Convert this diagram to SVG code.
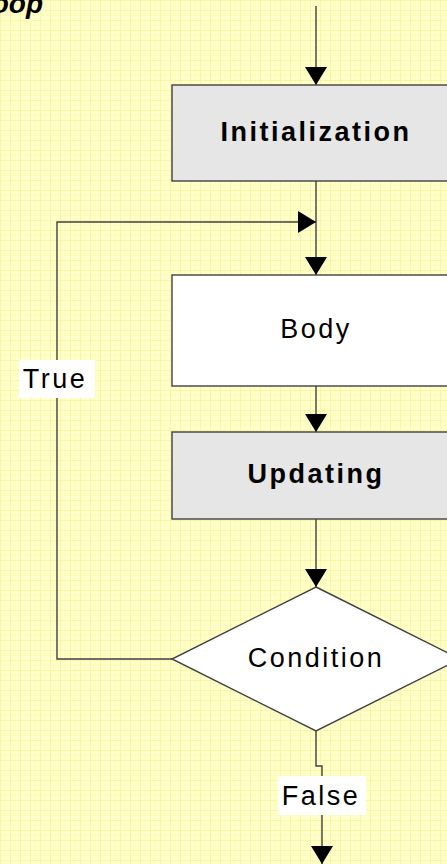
<svg xmlns="http://www.w3.org/2000/svg" width="447" height="864" viewBox="0 0 447 864">
<defs>
<pattern id="grid" width="10" height="10" patternUnits="userSpaceOnUse">
<rect width="10" height="10" fill="#FFFFCC"/>
<path d="M5 0V10M0 5H10" stroke="#FDFBB8" stroke-width="1" fill="none"/>
<path d="M0.5 0V10M0 0.5H10" stroke="#F9F5A4" stroke-width="1" fill="none"/>
</pattern>
<marker id="ah" viewBox="0 0 18 22" refX="18" refY="11" markerWidth="18" markerHeight="22" markerUnits="userSpaceOnUse" orient="auto">
<path d="M0 0L18 11L0 22Z" fill="#000"/>
</marker>
<style>
.ln{stroke:#404040;stroke-width:1.4;fill:none}
.box{stroke:#404040;stroke-width:1.4}
.t{font-family:"Liberation Sans",Arial,sans-serif;font-size:27px;letter-spacing:2.5px;text-anchor:middle;fill:#000}
.b{font-weight:bold}
</style>
</defs>
<rect width="447" height="864" fill="url(#grid)"/>
<text x="43" y="13" font-family="Liberation Sans,Arial,sans-serif" font-size="28" font-weight="bold" font-style="italic" text-anchor="end" fill="#000">oop</text>
<g id="connectors">
<line class="ln" x1="316" y1="6" x2="316" y2="85" marker-end="url(#ah)"/>
<line class="ln" x1="316" y1="181" x2="316" y2="275" marker-end="url(#ah)"/>
<line class="ln" x1="316" y1="386" x2="316" y2="432" marker-end="url(#ah)"/>
<line class="ln" x1="316" y1="519" x2="316" y2="587" marker-end="url(#ah)"/>
<polyline class="ln" points="172,659 57,659 57,222 316,222" marker-end="url(#ah)"/>
<polyline class="ln" points="316,731 316,766 322,766 322,864" marker-end="url(#ah)"/>
<g id="label-true"><rect x="19" y="360" width="76" height="38" fill="#fff"/><text class="t" x="55" y="388">True</text></g>
<g id="label-false"><rect x="278" y="776" width="88" height="39" fill="#fff"/><text class="t" x="321" y="805">False</text></g>
</g>
<g id="init"><rect class="box" x="172" y="85" width="290" height="96" fill="#E6E6E6"/><text class="t b" x="316" y="141">Initialization</text></g>
<g id="body"><rect class="box" x="172" y="275" width="290" height="111" fill="#fff"/><text class="t" x="316" y="338">Body</text></g>
<g id="updating"><rect class="box" x="172" y="432" width="290" height="87" fill="#E6E6E6"/><text class="t b" x="316" y="483">Updating</text></g>
<g id="condition"><polygon class="box" points="316,587 460,659 316,731 172,659" fill="#fff"/><text class="t" x="316" y="667">Condition</text></g>
</svg>
